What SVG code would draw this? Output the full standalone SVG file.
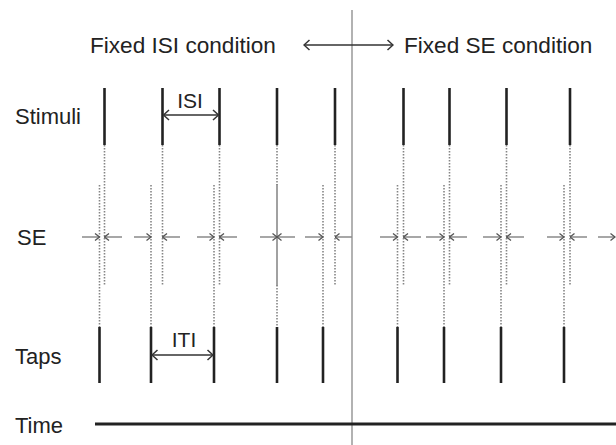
<svg xmlns="http://www.w3.org/2000/svg" width="616" height="445" viewBox="0 0 616 445">
<defs>
<style>
text{font-family:"Liberation Sans",Arial,sans-serif;fill:#222;}
.lbl{font-size:22px;}
.ttl{font-size:22.6px;}
.sm{font-size:21px;}
.stim{stroke:#222;stroke-width:2.6;}
.dot{stroke:#858585;stroke-width:1.6;stroke-dasharray:1.5 1.5;fill:none;}
.se{stroke:#8a8a8a;stroke-width:1.5;marker-end:url(#sa);}
.dim{stroke:#333;stroke-width:1.6;marker-start:url(#da);marker-end:url(#da);}
</style>
<marker id="sa" viewBox="0 0 6 8" refX="5.5" refY="4" markerWidth="6" markerHeight="8" markerUnits="userSpaceOnUse" orient="auto"><path d="M1,0.5 L5.5,4 L1,7.5" fill="none" stroke="#555" stroke-width="1.3"/></marker>
<marker id="da" viewBox="0 0 8 12" refX="7" refY="6" markerWidth="8" markerHeight="12" markerUnits="userSpaceOnUse" orient="auto-start-reverse"><path d="M1.5,1 L7,6 L1.5,11" fill="none" stroke="#333" stroke-width="1.5"/></marker>
</defs>
<rect width="616" height="445" fill="#fff"/>

<g id="divider"><line x1="352" y1="10" x2="352" y2="445" stroke="#999" stroke-width="1.5"/></g>

<g id="header">
<text class="ttl" x="90" y="53">Fixed ISI condition</text>
<line class="dim" x1="304" y1="45" x2="393" y2="45" stroke-width="2"/>
<text class="ttl" x="404" y="53">Fixed SE condition</text>
</g>

<g id="labels">
<text class="lbl" x="15" y="124">Stimuli</text>
<text class="lbl" x="17" y="245">SE</text>
<text class="lbl" x="15" y="364">Taps</text>
<text class="lbl" x="15" y="433">Time</text>
</g>

<g id="connectors">
<g class="dot">
<line x1="104.5" y1="145" x2="104.5" y2="285"/>
<line x1="162.5" y1="145" x2="162.5" y2="285"/>
<line x1="219.5" y1="145" x2="219.5" y2="285"/>
<line x1="277" y1="145" x2="277" y2="185"/>
<line x1="335" y1="145" x2="335" y2="285"/>
<line x1="403.5" y1="145" x2="403.5" y2="285"/>
<line x1="449.5" y1="145" x2="449.5" y2="285"/>
<line x1="506.5" y1="145" x2="506.5" y2="285"/>
<line x1="570" y1="145" x2="570" y2="285"/>
<line x1="99.5" y1="185" x2="99.5" y2="327"/>
<line x1="151" y1="185" x2="151" y2="327"/>
<line x1="214" y1="185" x2="214" y2="327"/>
<line x1="277" y1="285" x2="277" y2="327"/>
<line x1="323" y1="185" x2="323" y2="327"/>
<line x1="397.5" y1="185" x2="397.5" y2="327"/>
<line x1="444" y1="185" x2="444" y2="327"/>
<line x1="501" y1="185" x2="501" y2="327"/>
<line x1="564" y1="185" x2="564" y2="327"/>
</g>
<line x1="277" y1="184" x2="277" y2="286" stroke="#8a8a8a" stroke-width="1.6"/>
<line class="se" x1="82" y1="237" x2="99.5" y2="237"/>
<line class="se" x1="122" y1="237" x2="104.5" y2="237"/>
<line class="se" x1="134" y1="237" x2="151" y2="237"/>
<line class="se" x1="180" y1="237" x2="162.5" y2="237"/>
<line class="se" x1="197" y1="237" x2="214" y2="237"/>
<line class="se" x1="237" y1="237" x2="219.5" y2="237"/>
<line class="se" x1="260" y1="237" x2="277" y2="237"/>
<line class="se" x1="295" y1="237" x2="277" y2="237"/>
<line class="se" x1="305" y1="237" x2="323" y2="237"/>
<line class="se" x1="352" y1="237" x2="335" y2="237"/>
<line class="se" x1="380" y1="237" x2="397.5" y2="237"/>
<line class="se" x1="421" y1="237" x2="403.5" y2="237"/>
<line class="se" x1="426" y1="237" x2="444" y2="237"/>
<line class="se" x1="467" y1="237" x2="449.5" y2="237"/>
<line class="se" x1="483" y1="237" x2="501" y2="237"/>
<line class="se" x1="524" y1="237" x2="506.5" y2="237"/>
<line class="se" x1="547" y1="237" x2="564" y2="237"/>
<line class="se" x1="587" y1="237" x2="570" y2="237"/>
<line class="se" x1="598" y1="237" x2="615" y2="237"/>
</g>

<g id="stimuli" class="stim">
<line x1="104.5" y1="88" x2="104.5" y2="145"/>
<line x1="162.5" y1="88" x2="162.5" y2="145"/>
<line x1="219.5" y1="88" x2="219.5" y2="145"/>
<line x1="277" y1="88" x2="277" y2="145"/>
<line x1="335" y1="88" x2="335" y2="145"/>
<line x1="403.5" y1="88" x2="403.5" y2="145"/>
<line x1="449.5" y1="88" x2="449.5" y2="145"/>
<line x1="506.5" y1="88" x2="506.5" y2="145"/>
<line x1="570" y1="88" x2="570" y2="145"/>
</g>

<g id="isi">
<line class="dim" x1="163.5" y1="115" x2="218.5" y2="115"/>
<text class="sm" x="190" y="108" text-anchor="middle">ISI</text>
</g>

<g id="taps" class="stim">
<line x1="99.5" y1="327" x2="99.5" y2="383"/>
<line x1="151" y1="327" x2="151" y2="383"/>
<line x1="214" y1="327" x2="214" y2="383"/>
<line x1="277" y1="327" x2="277" y2="383"/>
<line x1="323" y1="327" x2="323" y2="383"/>
<line x1="397.5" y1="327" x2="397.5" y2="383"/>
<line x1="444" y1="327" x2="444" y2="383"/>
<line x1="501" y1="327" x2="501" y2="383"/>
<line x1="564" y1="327" x2="564" y2="383"/>
</g>

<g id="iti">
<line class="dim" x1="152" y1="355" x2="213" y2="355"/>
<text class="sm" x="184" y="347" text-anchor="middle">ITI</text>
</g>

<g id="time"><line x1="95" y1="424" x2="616" y2="424" stroke="#222" stroke-width="3"/></g>
</svg>
